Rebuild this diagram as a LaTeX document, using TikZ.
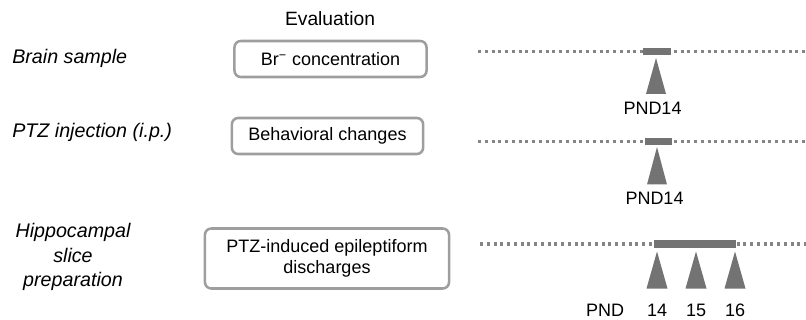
\documentclass[tikz,border=0pt]{standalone}
\usepackage{fontspec}
\setmainfont{Liberation Sans}
\usetikzlibrary{arrows.meta,positioning,calc}

\begin{document}
\begin{tikzpicture}[
  x=0.025cm, y=-0.025cm,
  title/.style={font=\fontsize{13.7}{16}\selectfont, inner sep=0pt},
  sample/.style={font=\fontsize{14}{17.4}\selectfont\itshape, align=center, inner sep=0pt},
  evalbox/.style={draw=black!38, line width=1.8pt, rounded corners=4.5pt, align=center,
                  inner sep=0pt, minimum height=0.9cm, font=\fontsize{12.8}{15}\selectfont},
  pnd/.style={font=\fontsize{12.8}{15}\selectfont, inner sep=0pt, anchor=base},
  dotline/.style={draw=black!48, line width=2.4pt, dash pattern=on 2.3pt off 2.5pt},
  dosebar/.style={draw=black!55, line width=5.6pt},
  tick/.style={fill=black!55}
]
\useasboundingbox (0,0) rectangle (806,320);

% ---------------------------------------------------------------------------
% Sample column and evaluation boxes
% ---------------------------------------------------------------------------
\node[title, anchor=base] (eval) at (330,26) {Evaluation};

\node[sample, anchor=base west] (brain) at (12,64) {Brain sample};
\node[sample, anchor=base west] (inject) at (12,138) {PTZ injection (i.p.)};
\node[sample] (slice) at (73,257) {Hippocampal\\ slice\\ preparation};

\node[evalbox, minimum width=4.8cm] (brconc) at (330.5,59) {Br\textsuperscript{−} concentration};
\node[evalbox, minimum width=4.78cm] (behav) at (327.5,136) {Behavioral changes};
\node[evalbox, minimum width=6.1cm, minimum height=1.5cm] (epi) at (327,258.5)
  {PTZ-induced epileptiform\\ discharges};

% ---------------------------------------------------------------------------
% Time lines with the days of evaluation
% ---------------------------------------------------------------------------
\coordinate (lineA) at (478,51.5);
\coordinate (lineAend) at (806,51.5);
\coordinate (lineB) at (478,141.5);
\coordinate (lineBend) at (806,141.5);
\coordinate (lineC) at (480,244);
\coordinate (lineCend) at (806,244);

\draw[dotline] (lineA) -- (lineAend);
\draw[dotline] (lineB) -- (lineBend);
\draw[dotline] (lineC) -- (lineCend);

% days of treatment on each line
\coordinate (barA) at (643,51.5);
\coordinate (barAend) at (671,51.5);
\coordinate (barB) at (645,141.5);
\coordinate (barBend) at (672,141.5);
\coordinate (barC) at (654,244);
\coordinate (barCend) at (736,244);
\draw[dosebar] (barA) -- (barAend);
\draw[dosebar] (barB) -- (barBend);
\draw[dosebar] (barC) -- (barCend);

% markers and day labels
\fill[tick] (656,58) -- ++(10,36) -- ++(-20,0) -- cycle;
\node[pnd] (dayA) at (652.5,115) {PND14};

\fill[tick] (657,147) -- ++(10,37.5) -- ++(-20,0) -- cycle;
\node[pnd] (dayB) at (654.5,205) {PND14};

\node[pnd] (dayC) at (605,316) {PND};
\foreach \d/\x in {14/657,15/696,16/735} {
  \fill[tick] (\x,251.5) -- ++(10.5,37) -- ++(-21,0) -- cycle;
  \node[pnd] (day\d) at (\x,316) {\d};
}

\end{tikzpicture}
\end{document}
